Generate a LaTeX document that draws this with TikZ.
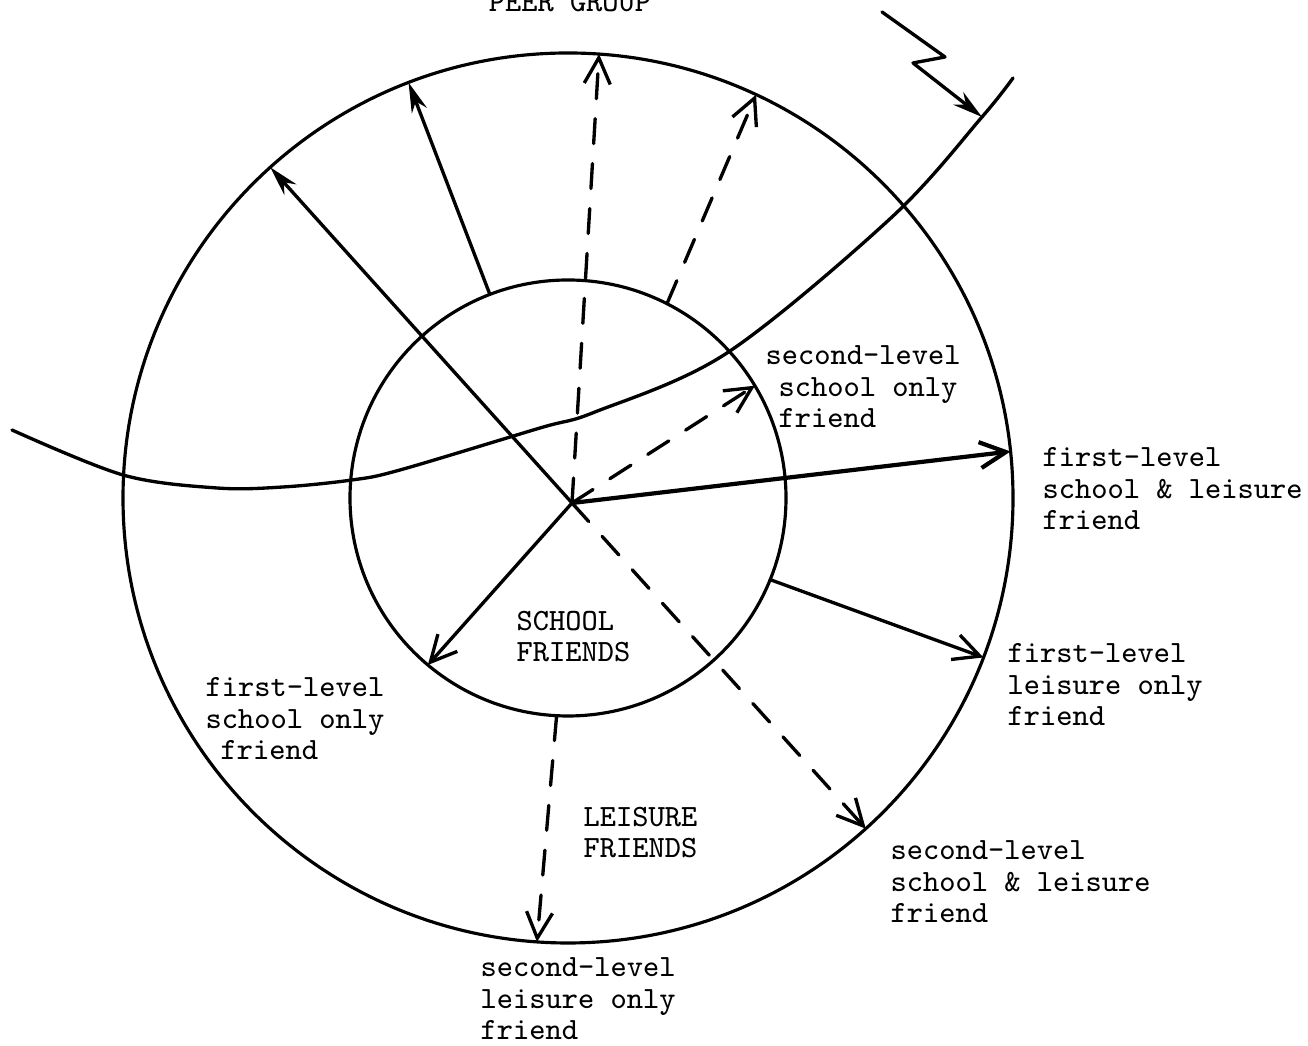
\documentclass[tikz,border=0pt]{standalone}
\usepackage{tikz}
\usetikzlibrary{arrows.meta}
\tikzset{
  pfrring/.style  = {draw, circle, line width=0.9pt, inner sep=0pt,
                     outer sep=0pt},
  pfrlbl/.style   = {font=\ttfamily\fontsize{8.8}{9.07}\selectfont,
                     align=left, inner sep=0pt, anchor=base west},
  pfrline/.style  = {line width=0.95pt},
  pfrsolid/.style = {pfrline, -{Straight Barb[length=2.6mm,width=2.6mm]}},
  pfrfill/.style  = {pfrline, -{Stealth[length=3mm,width=1.6mm]}},
  pfrdash/.style  = {pfrsolid, dash pattern=on 2.5mm off 2mm}
}

\begin{document}
\begin{tikzpicture}[line join=round, line cap=round]
  \useasboundingbox (0,0) rectangle (13.08,10.46);
  \coordinate (ctr) at (5.68,5.48);
  \coordinate (hub) at (5.72,5.43);
  \node[pfrring, minimum size=8.9cm]  (outer) at (ctr) {};
  \node[pfrring, minimum size=4.36cm] (inner) at (ctr) {};

  % peer group boundary
  \draw[pfrline] plot[smooth, tension=0.55] coordinates {(0.12,6.16) (1.23,5.71)
        (2.17,5.58) (2.83,5.59) (3.52,5.66) (4.00,5.76) (5.40,6.18) (5.95,6.34)
        (7.27,6.93) (8.92,8.29) (9.82,9.29) (10.13,9.68)};
  \coordinate (zz0)   at (8.82,10.34);
  \coordinate (zz1)   at (9.45,9.89);
  \coordinate (zz2)   at (9.13,9.83);
  \coordinate (pgtip) at (9.82,9.29);
  \draw[pfrfill] (zz0) -- (zz1) -- (zz2) -- (pgtip);

  % friendship links
  \draw[pfrfill]  (hub)         -- (outer.132.7);
  \draw[pfrfill]  (inner.111)   -- (outer.111.3);
  \draw[pfrdash]  (hub)         -- (outer.86.3);
  \draw[pfrdash]  (inner.63)    -- (outer.65);
  \draw[pfrdash]  (hub)         -- (inner.31);
  \draw[pfrsolid, line width=1.2pt] (hub) -- (outer.6.2);
  \draw[pfrsolid] (hub)         -- (inner.230);
  \draw[pfrsolid] (inner.338)   -- (outer.339);
  \draw[pfrdash]  (hub)         -- (outer.312);
  \draw[pfrdash]  (inner.267.2) -- (outer.266.4);

  % labels (anchored at the last line)
  \node[pfrlbl, anchor=base] (peer) at (5.70,10.34) {PEER GROUP};
  \node[pfrlbl] (schfr) at (5.16,3.84) {SCHOOL\\FRIENDS};
  \node[pfrlbl] (leifr) at (5.83,1.88) {LEISURE\\FRIENDS};
  \node[pfrlbl] (secso) at (7.65,6.18)
        {second-level\\\hspace*{0.13cm}school only\\\hspace*{0.13cm}friend};
  \node[pfrlbl] (firsl) at (10.42,5.16) {first-level\\school \& leisure\\friend};
  \node[pfrlbl] (firlo) at (10.07,3.20) {first-level\\leisure only\\friend};
  \node[pfrlbl] (secsl) at (8.90,1.23)  {second-level\\school \& leisure\\friend};
  \node[pfrlbl] (seclo) at (4.80,0.06)  {second-level\\leisure only\\friend};
  \node[pfrlbl] (firso) at (2.05,2.86)
        {first-level\\school only\\\hspace*{0.15cm}friend};
\end{tikzpicture}
\end{document}
